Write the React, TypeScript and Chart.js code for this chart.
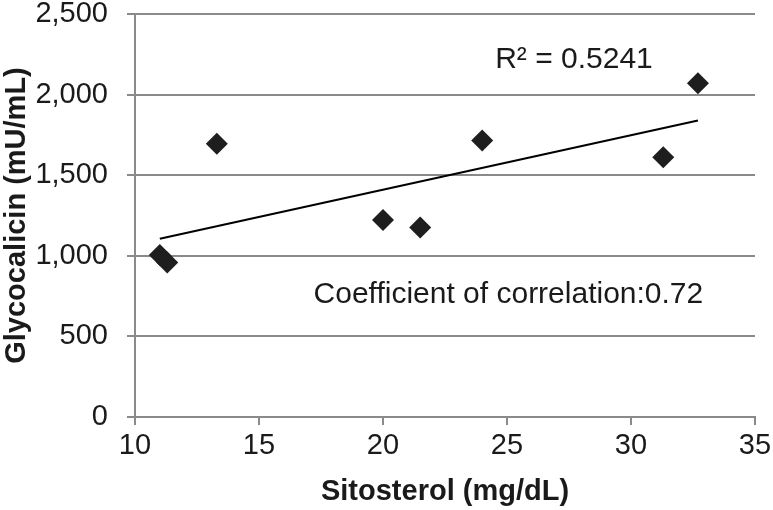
import React, { useEffect, useRef } from 'react';
import { Chart, registerables } from 'chart.js';

Chart.register(...registerables);

const sitosterol = [11.0, 11.3, 13.3, 20.0, 21.5, 24.0, 31.3, 32.7];
const glycocalicin = [1005, 958, 1695, 1222, 1175, 1715, 1612, 2070];
const xTickValues = [10, 15, 20, 25, 30, 35];
const yTickValues = [0, 500, 1000, 1500, 2000, 2500];
const xTitle = 'Sitosterol (mg/dL)';
const yTitle = 'Glycocalicin (mU/mL)';
const r2Label = 'R\u00b2 = 0.5241';
const corrLabel = 'Coefficient of correlation:0.72';

const FONT = '"Liberation Sans", Arial, Helvetica, sans-serif';

function regression(xs: number[], ys: number[]) {
  const n = xs.length;
  const mx = xs.reduce((a, b) => a + b, 0) / n;
  const my = ys.reduce((a, b) => a + b, 0) / n;
  let sxy = 0, sxx = 0;
  for (let i = 0; i < n; i++) {
    sxy += (xs[i] - mx) * (ys[i] - my);
    sxx += (xs[i] - mx) * (xs[i] - mx);
  }
  const slope = sxy / sxx;
  return { slope, intercept: my - slope * mx };
}

export default function App() {
  const ref = useRef<HTMLCanvasElement | null>(null);

  useEffect(() => {
    document.body.style.margin = '0';
    const canvas = ref.current;
    if (!canvas) return;
    const { slope, intercept } = regression(sitosterol, glycocalicin);
    const xMin = Math.min(...sitosterol);
    const xMax = Math.max(...sitosterol);
    const trend = [xMin, xMax].map((x) => ({ x, y: intercept + slope * x }));
    const points = sitosterol.map((x, i) => ({ x, y: glycocalicin[i] }));

    const textPlugin = {
      id: 'annot',
      afterDatasetsDraw(chart: any) {
        const { ctx, scales } = chart;
        ctx.save();
        ctx.fillStyle = '#1a1a1a';
        ctx.font = `30px ${FONT}`;
        ctx.textBaseline = 'middle';
        ctx.textAlign = 'center';
        ctx.fillText(r2Label, scales.x.getPixelForValue(27.7), scales.y.getPixelForValue(2215));
        ctx.textAlign = 'left';
        ctx.fillText(corrLabel, scales.x.getPixelForValue(17.2), scales.y.getPixelForValue(757));
        ctx.restore();
      },
    };

    const chart = new Chart(canvas, {
      type: 'scatter',
      data: {
        datasets: [
          {
            type: 'line',
            data: trend,
            borderColor: '#000',
            borderWidth: 2,
            pointRadius: 0,
            fill: false,
          } as any,
          {
            data: points,
            pointStyle: 'rectRot',
            pointRadius: 11,
            pointBackgroundColor: '#1e1e1e',
            pointBorderColor: '#1e1e1e',
            pointBorderWidth: 0,
          },
        ],
      },
      options: {
        animation: false,
        responsive: false,
        layout: { padding: { top: 14, right: 18, left: 0, bottom: 0 } },
        plugins: { legend: { display: false }, tooltip: { enabled: false } },
        scales: {
          x: {
            type: 'linear',
            min: 10,
            max: 35,
            afterBuildTicks: (s: any) => {
              s.ticks = xTickValues.map((v) => ({ value: v }));
            },
            afterFit: (s: any) => {
              s.height = 93;
              s.paddingLeft = 0;
              s.paddingRight = 0;
            },
            grid: {
              drawOnChartArea: false,
              drawTicks: true,
              tickLength: 8,
              color: '#8a8a8a',
              lineWidth: 2,
            },
            border: { display: true, color: '#8a8a8a', width: 2 },
            ticks: {
              color: '#1a1a1a',
              font: { family: FONT, size: 29 },
              padding: 4,
              maxRotation: 0,
            },
            title: {
              display: true,
              text: xTitle,
              color: '#1a1a1a',
              font: { family: FONT, size: 29, weight: 'bold' },
              padding: { top: 2, bottom: 1 },
            },
          },
          y: {
            type: 'linear',
            min: 0,
            max: 2500,
            afterBuildTicks: (s: any) => {
              s.ticks = yTickValues.map((v) => ({ value: v }));
            },
            afterFit: (s: any) => {
              s.width = 135;
              s.paddingTop = 0;
              s.paddingBottom = 0;
            },
            grid: {
              drawTicks: true,
              tickLength: 8,
              color: '#8a8a8a',
              lineWidth: 2,
            },
            border: { display: true, color: '#8a8a8a', width: 2 },
            ticks: {
              color: '#1a1a1a',
              font: { family: FONT, size: 29 },
              padding: 19,
              callback: (v: any) => Number(v).toLocaleString('en-US'),
            },
            title: {
              display: true,
              text: yTitle,
              color: '#1a1a1a',
              font: { family: FONT, size: 29, weight: 'bold' },
              padding: { top: 0, bottom: 0 },
            },
          },
        },
      },
      plugins: [textPlugin],
    });
    return () => chart.destroy();
  }, []);

  return (
    <div style={{ position: 'absolute', left: 0, top: 0, width: 773, height: 510 }}>
      <canvas ref={ref} width={773} height={510} style={{ width: 773, height: 510 }} />
    </div>
  );
}
